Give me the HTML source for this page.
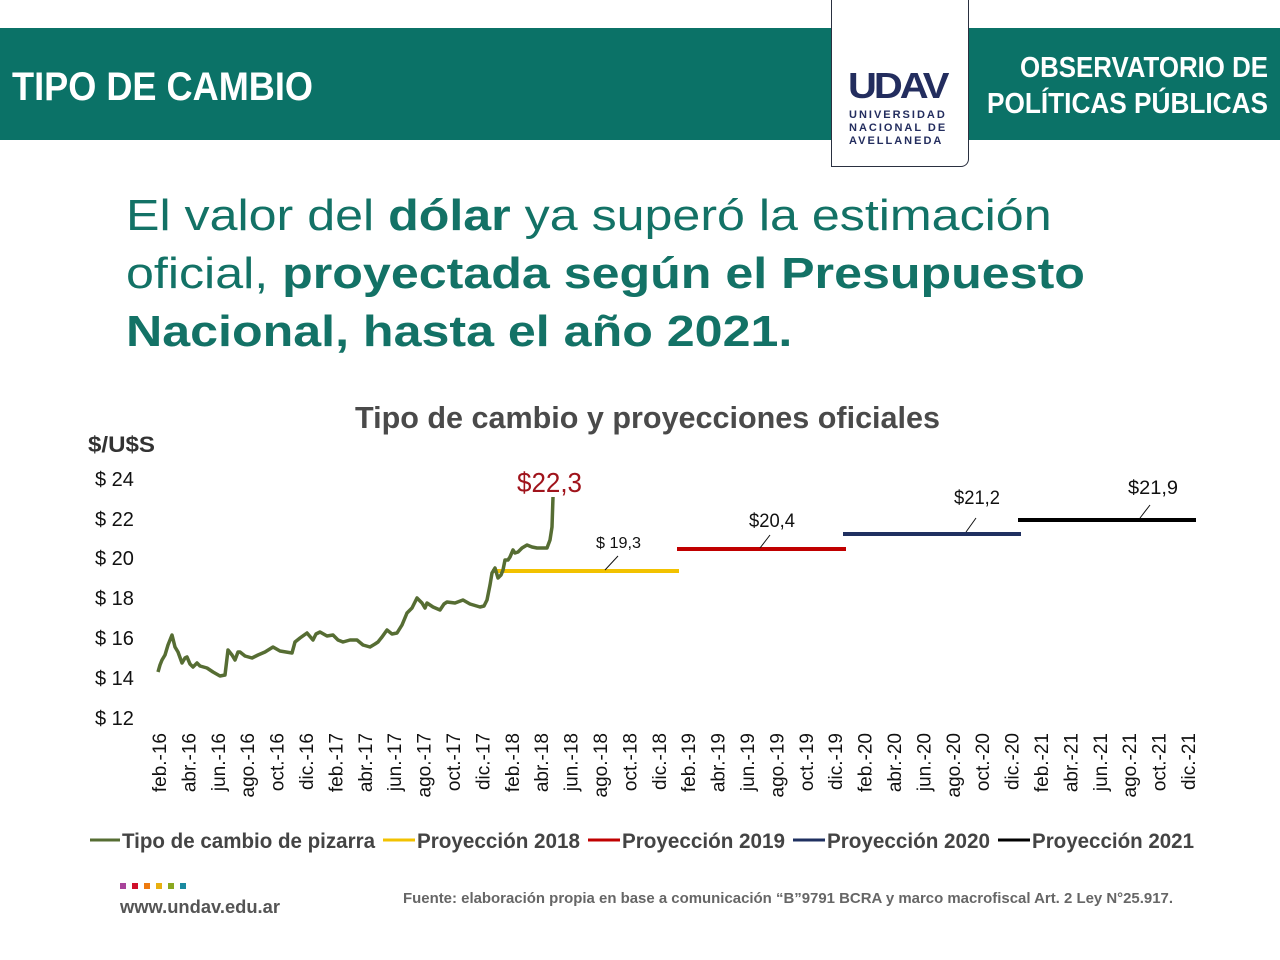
<!DOCTYPE html><html><head><meta charset="utf-8"><style>
body{margin:0;width:1280px;height:960px;background:#fff;position:relative;overflow:hidden;font-family:"Liberation Sans",sans-serif}
.bar{position:absolute;left:0;top:28px;width:1280px;height:112px;background:#0b7267}
</style></head><body>
<div class="bar"></div>
<div style="position:absolute;left:831px;top:-2px;width:136px;height:168px;background:#fff;border:1.5px solid #2a3040;border-top:none;border-radius:0 0 8px 0"></div>
<div style="position:absolute;left:848px;top:64px;color:#232d5e;font-size:40px;font-weight:bold;letter-spacing:-3px;transform:scaleY(.9)">UDAV</div>
<div style="position:absolute;left:849px;top:109px;color:#232d5e;font-size:11px;font-weight:bold;letter-spacing:2px;line-height:13px">UNIVERSIDAD<br>NACIONAL DE<br>AVELLANEDA</div>
<div style="position:absolute;left:126px;top:187px;color:#137266;font-size:44px;line-height:58px;transform:scaleX(1.14);transform-origin:left;white-space:nowrap">El valor del <b>dólar</b> ya superó la estimación<br>oficial, <b>proyectada según el Presupuesto<br>Nacional, hasta el año 2021.</b></div>
<svg width="1280" height="960" style="position:absolute;left:0;top:0" font-family="Liberation Sans, sans-serif">
<text x="12" y="100" font-size="40" font-weight="bold" fill="#fff" textLength="301" lengthAdjust="spacingAndGlyphs">TIPO DE CAMBIO</text>
<text x="1020" y="77" font-size="29" font-weight="bold" fill="#fff" textLength="248" lengthAdjust="spacingAndGlyphs">OBSERVATORIO DE</text>
<text x="987" y="113" font-size="29" font-weight="bold" fill="#fff" textLength="281" lengthAdjust="spacingAndGlyphs">POLÍTICAS PÚBLICAS</text>
<text x="355" y="428" font-size="31" font-weight="bold" fill="#4a4a4a" textLength="585" lengthAdjust="spacingAndGlyphs">Tipo de cambio y proyecciones oficiales</text>
<text x="88" y="452" font-size="22" font-weight="bold" fill="#333" textLength="67" lengthAdjust="spacingAndGlyphs">$/U$S</text>
<g font-size="20" fill="#111">
<text x="95" y="486">$ 24</text><text x="95" y="526">$ 22</text><text x="95" y="565">$ 20</text><text x="95" y="605">$ 18</text><text x="95" y="645">$ 16</text><text x="95" y="685">$ 14</text><text x="95" y="725">$ 12</text></g>
<line x1="492" y1="571" x2="679" y2="571" stroke="#f2c200" stroke-width="4"/>
<line x1="677" y1="549" x2="846" y2="549" stroke="#c00000" stroke-width="4"/>
<line x1="843" y1="534" x2="1021" y2="534" stroke="#1f3060" stroke-width="4"/>
<line x1="1018" y1="520" x2="1196" y2="520" stroke="#000" stroke-width="4"/>
<polyline fill="none" stroke="#566d33" stroke-width="3.5" stroke-linejoin="round" points="158,672 160,665 162,660 165,655 168,645 172,635 175,647 178,652 182,663 185,658 187,657 190,664 193,667 197,663 200,666 207,668 213,672 220,676 225,675 228,650 232,655 235,660 238,652 240,652 245,656 252,658 258,655 265,652 273,647 280,651 292,653 295,642 300,638 307,633 313,640 316,634 320,632 327,636 333,635 338,640 343,642 350,640 357,640 363,645 370,647 375,644 378,642 382,637 387,630 392,634 397,633 402,625 407,613 412,608 417,598 422,603 425,608 427,603 433,607 440,610 444,604 447,602 455,603 463,600 470,604 480,607 484,606 487,600 490,585 492,573 495,568 498,578 501,575 503,570 505,560 508,560 510,557 513,550 515,553 518,552 522,548 527,545 532,547 537,548 542,548 547,548 550,540 552,527 553,497"/>
<text x="517" y="492" font-size="28" fill="#a0141c" textLength="65" lengthAdjust="spacingAndGlyphs">$22,3</text>
<text x="596" y="548" font-size="16" fill="#111" textLength="45" lengthAdjust="spacingAndGlyphs">$ 19,3</text><line x1="605" y1="570" x2="618" y2="556" stroke="#111"/>
<text x="749" y="527" font-size="19" fill="#111" textLength="46" lengthAdjust="spacingAndGlyphs">$20,4</text><line x1="760" y1="548" x2="770" y2="535" stroke="#111"/>
<text x="954" y="504" font-size="19" fill="#111" textLength="46" lengthAdjust="spacingAndGlyphs">$21,2</text><line x1="966" y1="532" x2="976" y2="518" stroke="#111"/>
<text x="1128" y="494" font-size="19" fill="#111" textLength="50" lengthAdjust="spacingAndGlyphs">$21,9</text><line x1="1140" y1="518" x2="1150" y2="505" stroke="#111"/>
<g font-size="19" fill="#111" text-anchor="end" id="xl"></g>
<g font-size="21" font-weight="bold" fill="#444">
<line x1="90" y1="840" x2="120" y2="840" stroke="#566d33" stroke-width="3"/><text x="122" y="848" textLength="253" lengthAdjust="spacingAndGlyphs">Tipo de cambio de pizarra</text>
<line x1="383" y1="840" x2="415" y2="840" stroke="#f2c200" stroke-width="3"/><text x="417" y="848" textLength="163" lengthAdjust="spacingAndGlyphs">Proyección 2018</text>
<line x1="588" y1="840" x2="620" y2="840" stroke="#c00000" stroke-width="3"/><text x="622" y="848" textLength="163" lengthAdjust="spacingAndGlyphs">Proyección 2019</text>
<line x1="793" y1="840" x2="825" y2="840" stroke="#1f3060" stroke-width="3"/><text x="827" y="848" textLength="163" lengthAdjust="spacingAndGlyphs">Proyección 2020</text>
<line x1="998" y1="840" x2="1030" y2="840" stroke="#000" stroke-width="3"/><text x="1032" y="848" textLength="162" lengthAdjust="spacingAndGlyphs">Proyección 2021</text>
</g>
<g><rect x="120" y="883" width="6" height="6" fill="#a8439a"/><rect x="132" y="883" width="6" height="6" fill="#d0102a"/><rect x="144" y="883" width="6" height="6" fill="#ee7a10"/><rect x="156" y="883" width="6" height="6" fill="#e8b010"/><rect x="168" y="883" width="6" height="6" fill="#8aa820"/><rect x="180" y="883" width="6" height="6" fill="#1a8aa0"/></g>
<text x="120" y="913" font-size="18" font-weight="bold" fill="#555" textLength="160" lengthAdjust="spacingAndGlyphs">www.undav.edu.ar</text>
<text x="403" y="903" font-size="15" font-weight="bold" fill="#666" textLength="770" lengthAdjust="spacingAndGlyphs">Fuente: elaboración propia en base a comunicación “B”9791 BCRA y marco macrofiscal Art. 2 Ley N°25.917.</text>
</svg>
<script>
var m=['feb','abr','jun','ago','oct','dic'],g=document.getElementById('xl'),s='';
for(var i=0;i<36;i++){var x=166+29.4*i,l=m[i%6]+'.-'+(16+Math.floor(i/6));
s+='<text transform="translate('+x+',733) rotate(-90)">'+l+'</text>';}
g.innerHTML=s;
</script>
</body></html>
